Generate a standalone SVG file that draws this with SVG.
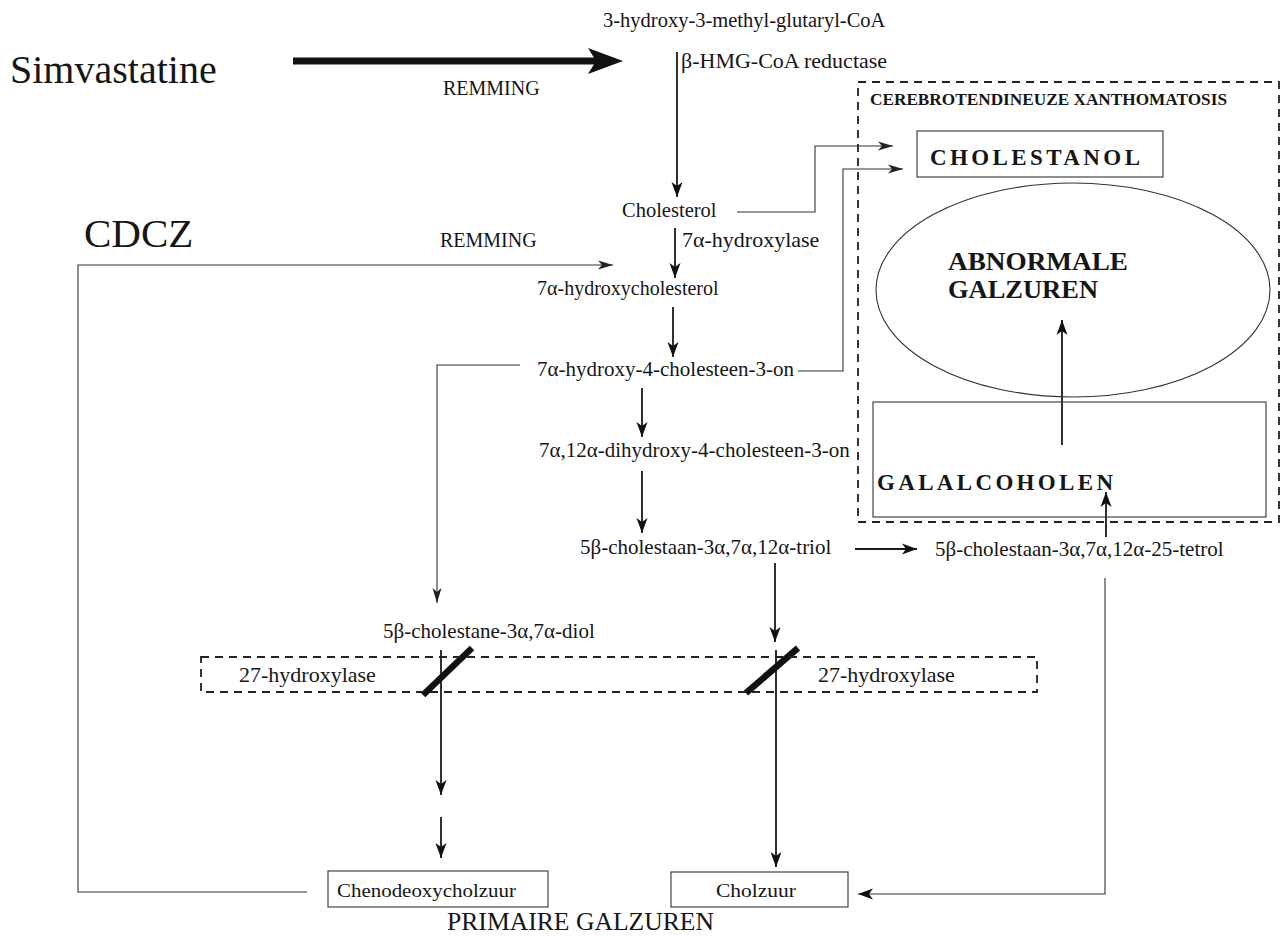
<svg xmlns="http://www.w3.org/2000/svg" width="1281" height="936" viewBox="0 0 1281 936">
<style>
text{font-family:"Liberation Serif","Times New Roman",serif;fill:#161616}
.m{font-size:21px}
.b{font-weight:bold}
.ln{fill:none;stroke:#1a1a1a;stroke-width:1.8}
.th{fill:none;stroke:#333;stroke-width:1.1}
.box{fill:none;stroke:#333;stroke-width:1.1}
.dash{fill:none;stroke:#222;stroke-width:1.8;stroke-dasharray:8 6}
.slash{stroke:#111;stroke-width:6.5}
</style>
<defs>
<marker id="ah" markerUnits="userSpaceOnUse" viewBox="0 0 16 12" markerWidth="16" markerHeight="12" refX="15" refY="6" orient="auto"><path d="M0,0.5 L15,6 L0,11.5 L4,6 Z" fill="#111"/></marker>
<marker id="as" markerUnits="userSpaceOnUse" viewBox="0 0 16 10" markerWidth="16" markerHeight="10" refX="15" refY="5" orient="auto"><path d="M0,0.5 L15,5 L0,9.5 L4,5 Z" fill="#222"/></marker>
</defs>
<rect width="1281" height="936" fill="#fff"/>

<g id="connectors">
<line x1="293" y1="61" x2="596" y2="61" stroke="#111" stroke-width="7"/>
<path d="M588,48 L623,61 L588,74 L596,61 Z" fill="#111"/>
<line class="ln" x1="677" y1="52" x2="677" y2="197" marker-end="url(#ah)"/>
<line class="ln" x1="675" y1="228" x2="675" y2="278" marker-end="url(#ah)"/>
<line class="ln" x1="673" y1="307" x2="673" y2="357" marker-end="url(#ah)"/>
<line class="ln" x1="642" y1="388" x2="642" y2="437" marker-end="url(#ah)"/>
<line class="ln" x1="642" y1="471" x2="642" y2="533" marker-end="url(#ah)"/>
<line class="ln" x1="855" y1="549" x2="917" y2="549" marker-end="url(#ah)"/>
<line class="ln" x1="775" y1="563" x2="775" y2="642" marker-end="url(#ah)"/>
<line class="ln" x1="776" y1="650" x2="776" y2="867" marker-end="url(#ah)"/>
<line class="ln" x1="441" y1="650" x2="441" y2="795" marker-end="url(#ah)"/>
<line class="ln" x1="441" y1="817" x2="441" y2="858" marker-end="url(#ah)"/>
<line class="ln" x1="1106" y1="537" x2="1106" y2="492" marker-end="url(#ah)"/>
<line class="ln" x1="1062" y1="445" x2="1062" y2="320" marker-end="url(#ah)"/>
<polyline class="th" points="737,212 815,212 815,146 893,146" marker-end="url(#as)"/>
<polyline class="th" points="798,371 843,371 843,169 903,169" marker-end="url(#as)"/>
<polyline class="th" points="520,365 437,365 437,603" marker-end="url(#as)"/>
<polyline class="th" points="307,892 78,892 78,265 613,265" marker-end="url(#as)"/>
<polyline class="th" points="1105,578 1105,894 858,894" marker-end="url(#ah)"/>
<line class="slash" x1="472" y1="648" x2="423" y2="695"/>
<line class="slash" x1="798" y1="648" x2="746" y2="693"/>
</g>

<g id="simvastatine"><text x="10" y="83" font-size="40">Simvastatine</text></g>
<g id="remming-top"><text x="443" y="95" font-size="20">REMMING</text></g>
<g id="hmgcoa"><text x="603" y="27" font-size="20.5">3-hydroxy-3-methyl-glutaryl-CoA</text></g>
<g id="reductase"><text x="681" y="68" font-size="22">β-HMG-CoA reductase</text></g>
<g id="cdcz"><text x="84" y="247" font-size="41">CDCZ</text></g>
<g id="remming-mid"><text x="440" y="247" font-size="20">REMMING</text></g>
<g id="cholesterol"><text x="622" y="217" font-size="20.5">Cholesterol</text></g>
<g id="hydroxylase7"><text x="682" y="247" font-size="22">7α-hydroxylase</text></g>
<g id="hydroxycholesterol"><text x="537" y="295" font-size="20">7α-hydroxycholesterol</text></g>
<g id="cholesteen"><text class="m" x="537" y="376">7α-hydroxy-4-cholesteen-3-on</text></g>
<g id="dihydroxy"><text class="m" x="539" y="457">7α,12α-dihydroxy-4-cholesteen-3-on</text></g>
<g id="triol"><text class="m" x="580" y="554">5β-cholestaan-3α,7α,12α-triol</text></g>
<g id="tetrol"><text class="m" x="935" y="556">5β-cholestaan-3α,7α,12α-25-tetrol</text></g>
<g id="diol"><text class="m" x="383" y="638">5β-cholestane-3α,7α-diol</text></g>

<g id="hydroxylase27">
<rect class="dash" x="201" y="657" width="836" height="35"/>
<text x="239" y="682" font-size="22">27-hydroxylase</text>
<text x="818" y="682" font-size="22">27-hydroxylase</text>
</g>

<g id="ctx">
<rect class="dash" x="858" y="82" width="421" height="440"/>
<text class="b" x="870" y="105" font-size="17" textLength="357" lengthAdjust="spacingAndGlyphs">CEREBROTENDINEUZE XANTHOMATOSIS</text>
</g>
<g id="cholestanol">
<rect class="box" x="917" y="131" width="246" height="46"/>
<text class="b" x="930" y="165" font-size="23" textLength="210" lengthAdjust="spacing">CHOLESTANOL</text>
</g>
<g id="abnormale">
<ellipse class="box" cx="1073" cy="290" rx="197" ry="107"/>
<text class="b" x="948" y="270" font-size="25" textLength="180" lengthAdjust="spacingAndGlyphs">ABNORMALE</text>
<text class="b" x="948" y="298" font-size="25" textLength="150" lengthAdjust="spacingAndGlyphs">GALZUREN</text>
</g>
<g id="galalcoholen">
<rect class="box" x="873" y="402" width="393" height="115"/>
<text class="b" x="877" y="490" font-size="23" textLength="236" lengthAdjust="spacing">GALALCOHOLEN</text>
</g>

<g id="cheno">
<rect class="box" x="328" y="871" width="220" height="36"/>
<text x="337" y="897" font-size="19" textLength="179" lengthAdjust="spacingAndGlyphs">Chenodeoxycholzuur</text>
</g>
<g id="cholzuur">
<rect class="box" x="671" y="872" width="177" height="35"/>
<text x="716" y="897" font-size="19" textLength="80" lengthAdjust="spacingAndGlyphs">Cholzuur</text>
</g>
<g id="primaire"><text x="447" y="930" font-size="26" textLength="267" lengthAdjust="spacingAndGlyphs">PRIMAIRE GALZUREN</text></g>
</svg>
